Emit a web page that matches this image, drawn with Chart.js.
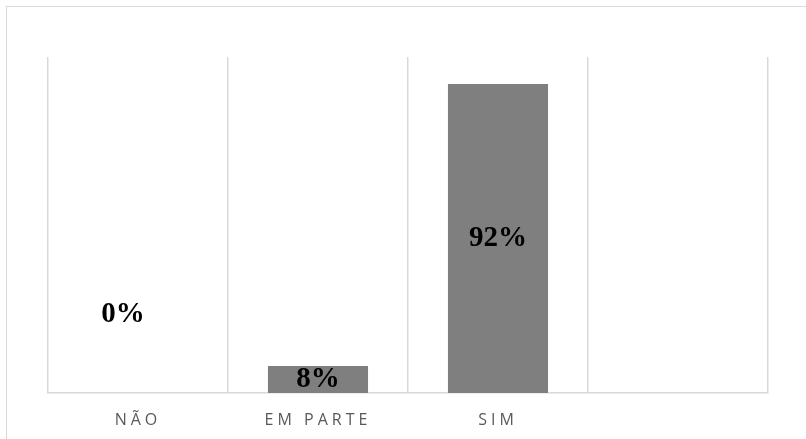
<!DOCTYPE html>
<html>
<head>
<meta charset="utf-8">
<script src="https://cdn.jsdelivr.net/npm/chart.js@4"></script>
<style>
    html, body { margin: 0; padding: 0; background: #fff; }
    #wrap { position: relative; width: 806px; height: 439px; overflow: hidden; }
    #frame {
        position: absolute; left: 6px; top: 6px;
        width: 1000px; height: 600px;
        border: 1.5px solid #d9d9d9;
    }
    #chart { position: absolute; left: 0; top: 0; }
</style>
</head>
<body>
<div id="wrap">
    <div id="frame"></div>
    <canvas id="chart" width="806" height="439"></canvas>
</div>
<script>
// respostas (%)
const categories = ['NÃO', 'EM PARTE', 'SIM', ''];
const percentages = [0, 8, 92, null];

const BAR_COLOR = '#7f7f7f';
const GRID_COLOR = '#d9d9d9';

// rótulos de valor no centro de cada barra
const valueLabels = {
    id: 'valueLabels',
    afterDatasetsDraw(chart, args, opts) {
        const ctx = chart.ctx;
        const meta = chart.getDatasetMeta(0);
        ctx.save();
        ctx.letterSpacing = '0px';
        ctx.font = 'bold 29px "Liberation Serif", "Times New Roman", serif';
        ctx.fillStyle = '#000';
        ctx.textAlign = 'center';
        ctx.textBaseline = 'middle';
        meta.data.forEach((bar, i) => {
            const v = percentages[i];
            if (v === null || v === undefined) return;
            const nudge = (opts.nudge && opts.nudge[i]) || { dx: 0, dy: 0 };
            const x = bar.x + nudge.dx;
            const y = (bar.y + bar.base) / 2 + nudge.dy;
            ctx.fillText(v + '%', x, y);
        });
        ctx.restore();
    },
};

// espaçamento entre letras nos rótulos do eixo
const spacedTicks = {
    id: 'spacedTicks',
    beforeDraw(chart) { chart.ctx.letterSpacing = '4px'; },
    beforeDatasetsDraw(chart) { chart.ctx.letterSpacing = '0px'; },
};

new Chart(document.getElementById('chart'), {
    type: 'bar',
    data: {
        labels: categories,
        datasets: [{
            data: percentages,
            backgroundColor: BAR_COLOR,
            borderWidth: 0,
            categoryPercentage: 1,
            barPercentage: 0.556,
        }],
    },
    options: {
        responsive: false,
        animation: false,
        layout: { padding: { left: 48, right: 38, top: 57, bottom: 0 } },
        plugins: {
            legend: { display: false },
            tooltip: { enabled: false },
            valueLabels: { nudge: [{ dx: -15, dy: -78 }] },
        },
        scales: {
            x: {
                afterFit: (scale) => { scale.height = 46; },
                grid: {
                    color: GRID_COLOR,
                    lineWidth: 1.5,
                    drawTicks: false,
                    offset: true,
                },
                border: { display: true, color: GRID_COLOR, width: 1.5 },
                ticks: {
                    color: '#595959',
                    font: { family: '"Open Sans", "Liberation Sans", sans-serif', size: 16 },
                    padding: 18,
                    maxRotation: 0,
                    autoSkip: false,
                },
            },
            y: {
                display: false,
                min: 0,
                max: 100,
            },
        },
    },
    plugins: [spacedTicks, valueLabels],
});
</script>
</body>
</html>
